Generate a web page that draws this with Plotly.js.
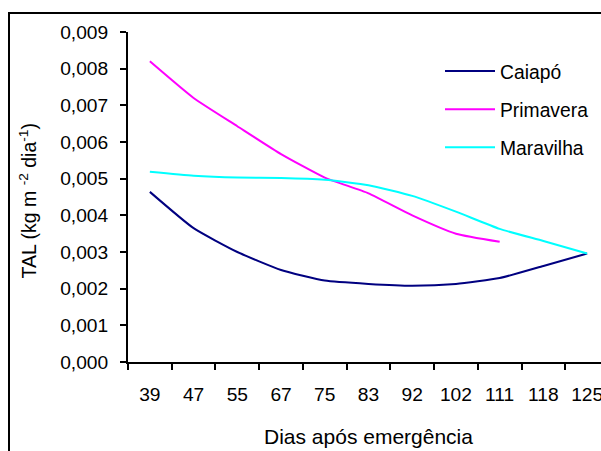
<!DOCTYPE html>
<html>
<head>
<meta charset="utf-8">
<script src="https://cdn.plot.ly/plotly-3.0.1.min.js"></script>
<style>
html,body{margin:0;padding:0;overflow:hidden;background:#fff;width:601px;height:451px;}
#chart{width:625px;height:475px;}
</style>
</head>
<body>
<div id="chart"></div>
<script>
var days = ["39","47","55","67","75","83","92","102","111","118","125"];
var caiapo    = [0.00464,0.00365,0.00300,0.00251,0.00222,0.00213,0.00208,0.00213,0.00229,0.00262,0.00296];
var primavera = [0.00820,0.00720,0.00643,0.00567,0.00503,0.00460,0.00400,0.00350,0.00328,null,null];
var maravilha = [0.00519,0.00508,0.00503,0.00502,0.00497,0.00482,0.00453,0.00410,0.00363,0.00330,0.00296];
var seriesNames = ["Caiapó","Primavera","Maravilha"];
var seriesColors = ["#000080","#FF00FF","#00FFFF"];

var idx = days.map(function(d,i){return i;});
var data = [caiapo, primavera, maravilha].map(function(vals,k){
  return {
    x: idx, y: vals, type:'scatter', mode:'lines', name: seriesNames[k],
    legendgroup: 'g'+k,
    line:{color: seriesColors[k], width:2, shape:'spline', smoothing:0.5},
    hoverinfo:'skip'
  };
});

var W = 625, H = 475;
var L = 128, R = W - 609, T = 32, B = H - 362;
var PW = 609 - L, PH = 362 - T;
var layout = {
  width: W, height: H,
  margin:{l:L, r:R, t:T, b:B, pad:0},
  paper_bgcolor:'#fff', plot_bgcolor:'#fff',
  separators: ',.',
  font:{family:'"Liberation Sans", Arial, sans-serif', size:19, color:'#000'},
  showlegend:true,
  legend:{x:(440-L)/PW, y:(362-52)/PH, xanchor:'left', yanchor:'top',
    bgcolor:'rgba(0,0,0,0)', borderwidth:0, traceorder:'grouped', tracegroupgap:10,
    font:{size:19.3}, itemwidth:50},
  xaxis:{
    range:[-0.5, 10.5], tickmode:'array', tickvals: idx, ticktext: days,
    ticks:'', showgrid:false, zeroline:false,
    showline:true, linecolor:'#000', linewidth:2,
    ticklabelstandoff: 14,
    tickfont:{size:19.2},
    minor:{tick0:-0.5, dtick:1, ticks:'outside', ticklen:6, tickwidth:2, tickcolor:'#000', showgrid:false},
    title:{text:'Dias após emergência', standoff:25, font:{size:21}},
    fixedrange:true
  },
  yaxis:{
    range:[0, 0.009], dtick:0.001, tick0:0, tickformat:'.3f',
    ticks:'outside', ticklen:6, tickwidth:2, tickcolor:'#000',
    showgrid:false, zeroline:false, showline:true, linecolor:'#000', linewidth:2,
    ticklabelstandoff: 8,
    tickfont:{size:19.2},
    fixedrange:true
  },
  annotations:[{
    text:'TAL (kg m <sup>-2</sup> dia<sup>-1</sup>)', textangle:-90,
    xref:'paper', yref:'paper', x:(27-L)/PW, y:(362-201.5)/PH,
    xanchor:'center', yanchor:'middle', showarrow:false, font:{size:19.5}
  }],
  shapes:[{
    type:'rect', xref:'paper', yref:'paper',
    x0:(9-L)/PW, x1:(622-L)/PW,
    y0:(362-470)/PH, y1:(362-13)/PH,
    line:{color:'#000', width:2}, fillcolor:'rgba(0,0,0,0)', layer:'below'
  }]
};
Plotly.newPlot('chart', data, layout, {staticPlot:true, displayModeBar:false});
</script>
</body>
</html>
